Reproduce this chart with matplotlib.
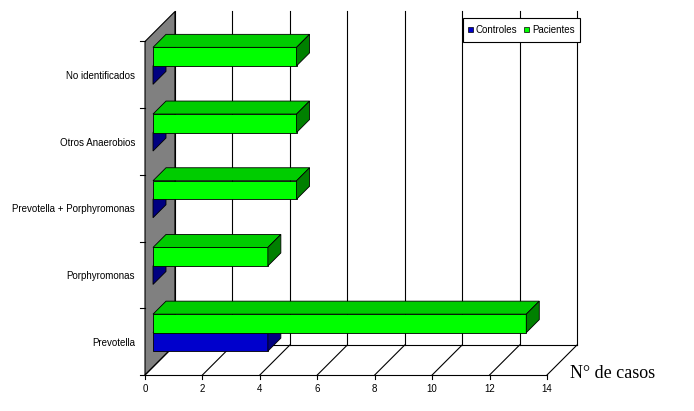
import matplotlib
matplotlib.use("Agg")
import matplotlib.pyplot as plt
from matplotlib.patches import Polygon, Rectangle

categories = ["Prevotella", "Porphyromonas", "Prevotella + Porphyromonas", "Otros Anaerobios", "No identificados"]
controles = [4, 0, 0, 0, 0]
pacientes = [13, 4, 5, 5, 5]
xticks = [0, 2, 4, 6, 8, 10, 12, 14]

fig = plt.figure(figsize=(6.94, 4.11), dpi=100)
ax = fig.add_axes([0, 0, 1, 1])
ax.set_xlim(0, 694); ax.set_ylim(411, 0); ax.axis("off")

X0, Y0 = 145, 375
DX, DY = 30, -30
U = (547 - 145) / 14
SP = 66.7
BO = 8
BD = 13
BH = 18.5

ax.add_patch(Polygon([(X0, Y0 - 5 * SP), (X0 + DX, Y0 - 5 * SP + DY), (X0 + DX, Y0 + DY), (X0, Y0)],
                     closed=True, fc="#808080", ec="black", lw=0.8, zorder=1))
for v in xticks:
    bx = X0 + DX + v * U
    ax.plot([bx, bx], [Y0 - 5 * SP + DY, Y0 + DY], color="black", lw=0.8, zorder=1)
    fx = X0 + v * U
    ax.plot([fx, bx], [Y0, Y0 + DY], color="black", lw=0.8, zorder=1)
    ax.plot([fx, fx], [Y0, Y0 + 4], color="black", lw=0.8, zorder=1)
    ax.text(fx, Y0 + 14, str(v), ha="center", va="center", fontsize=7, family="Liberation Sans")
ax.plot([X0, X0 + 14 * U], [Y0, Y0], color="black", lw=0.8, zorder=1)
ax.plot([X0 + DX, X0 + DX + 14 * U], [Y0 + DY, Y0 + DY], color="black", lw=0.8, zorder=1)
for i in range(6):
    y = Y0 - i * SP
    ax.plot([X0 - 5, X0], [y, y], color="black", lw=0.8, zorder=1)


def bar3d(x0, ytop, val, front, top, side):
    x1 = x0 + val * U
    yb = ytop + BH
    if val > 0:
        ax.add_patch(Polygon([(x0, ytop), (x0 + BD, ytop - BD), (x1 + BD, ytop - BD), (x1, ytop)],
                             closed=True, fc=top, ec="black", lw=0.6, zorder=3))
        ax.add_patch(Rectangle((x0, ytop), x1 - x0, BH, fc=front, ec="black", lw=0.6, zorder=3))
    ax.add_patch(Polygon([(x1, ytop), (x1 + BD, ytop - BD), (x1 + BD, yb - BD), (x1, yb)],
                         closed=True, fc=side, ec="black", lw=0.6, zorder=3))


for i, cat in enumerate(categories):
    yc = Y0 - i * SP - SP / 2 - 9
    xs = X0 + BO
    bar3d(xs, yc, controles[i], "#0000CC", "#000099", "#000080")
    bar3d(xs, yc - BH, pacientes[i], "#00FF00", "#00CC00", "#008000")
    ax.text(135, Y0 - i * SP - SP / 2 + 1, cat, ha="right", va="center", fontsize=7, family="Liberation Sans")

ax.text(570, 373, "N° de casos", ha="left", va="center", fontsize=13, family="Liberation Serif")

ax.add_patch(Rectangle((463, 18), 117, 24, fc="white", ec="black", lw=0.8, zorder=4))
ax.add_patch(Rectangle((468, 27), 5, 5, fc="#0000CC", ec="black", lw=0.5, zorder=5))
ax.text(476, 30, "Controles", ha="left", va="center", fontsize=7, family="Liberation Sans", zorder=5)
ax.add_patch(Rectangle((524, 27), 5, 5, fc="#00FF00", ec="black", lw=0.5, zorder=5))
ax.text(532, 30, "Pacientes", ha="left", va="center", fontsize=7, family="Liberation Sans", zorder=5)

fig.savefig("out.png", dpi=100)
